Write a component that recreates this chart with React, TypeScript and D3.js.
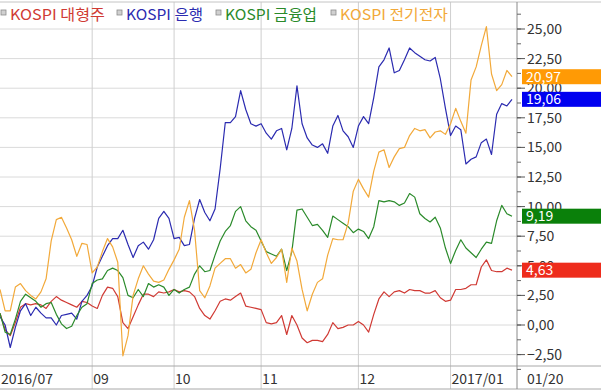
import React from "react";
import * as d3 from "d3";

const W = 601;
const H = 391;

// KOSPI sector indices, % change, one point per step
const largeCap = [
  1.0, -0.4, -0.9, 0.2, 1.5, 1.8, 1.7, 1.8, 1.7, 1.4, 2.0, 2.4, 2.1, 1.9, 1.7, 1.5, 2.0, 1.9, 1.6, 1.4,
  2.5, 3.2, 3.1, 2.4, 0.2, -0.3, 0.7, 1.7, 2.6, 2.6, 2.4, 2.8, 2.7, 2.8, 3.0, 2.8, 2.9, 2.8, 2.4, 1.4,
  0.8, 0.5, 1.2, 2.0, 2.2, 2.1, 2.4, 2.7, 1.6, 1.5, 1.4, 1.3, 0.2, 0.1, 0.2, 0.8, -0.8, 0.8, 0.0, -1.1,
  -1.5, -1.3, -1.3, -1.4, -0.8, 0.2, -0.3, -0.2, 0.0, 0.0, 0.3, 0.0, -0.6, 0.9, 2.2, 2.8, 2.4, 2.8, 2.9, 2.7,
  3.0, 2.9, 2.9, 2.7, 2.7, 2.9, 2.3, 2.0, 2.1, 3.0, 3.0, 3.1, 3.4, 3.4, 4.9, 5.5, 4.6, 4.5, 4.5, 4.8,
  4.63,
];
const bank = [
  0.7, 0.0, -1.9, -0.2, 1.2, 1.8, 0.8, 1.5, 1.0, 0.6, 0.6, 0.0, 0.8, 0.9, 1.0, 0.5, 2.0, 2.5, 3.3, 4.9,
  5.8, 6.7, 7.3, 7.3, 8.0, 6.8, 5.7, 6.7, 7.0, 6.4, 7.2, 9.0, 9.6, 9.0, 7.3, 7.4, 6.7, 6.8, 9.0, 10.6,
  9.5, 8.8, 9.8, 13.2, 17.1, 17.1, 17.6, 19.8, 18.2, 17.0, 16.8, 17.0, 16.2, 15.7, 16.4, 16.6, 14.8, 16.6, 20.2, 17.0,
  15.8, 15.2, 15.0, 15.3, 14.5, 16.8, 17.7, 16.4, 15.9, 15.0, 16.8, 17.6, 17.0, 19.2, 21.8, 22.4, 23.4, 21.3, 21.5, 22.4,
  23.4, 23.0, 22.7, 22.4, 22.3, 22.6, 20.8, 18.3, 16.0, 16.8, 16.5, 13.6, 14.0, 14.2, 15.4, 15.7, 14.4, 17.8, 18.7, 18.5,
  19.06,
];
const finance = [
  1.0, -0.6, -0.8, 0.5, 2.0, 2.6, 2.3, 2.0, 1.5, 1.8, 1.9, 0.9, 0.1, -0.3, -0.1, 0.8, 1.5, 1.8, 3.5, 3.8,
  3.9, 4.6, 4.8, 4.6, 4.0, 2.5, 2.3, 3.0, 2.4, 3.5, 3.2, 3.4, 3.2, 2.5, 3.0, 2.7, 3.0, 3.2, 4.3, 5.0,
  4.5, 4.6, 5.9, 7.1, 7.9, 8.4, 9.6, 10.0, 8.8, 8.3, 8.0, 7.1, 6.2, 6.0, 5.8, 6.4, 4.6, 6.2, 9.7, 9.8,
  9.1, 8.4, 8.5, 8.0, 7.4, 9.2, 8.9, 8.6, 8.3, 7.8, 8.1, 7.9, 7.3, 8.3, 10.5, 10.4, 10.5, 10.4, 10.1, 10.3,
  11.1, 10.8, 9.4, 9.0, 8.7, 9.1, 8.2, 6.5, 5.2, 6.3, 7.2, 6.5, 6.1, 5.7, 6.4, 7.0, 6.9, 8.8, 10.1, 9.4,
  9.19,
];
const electronics = [
  3.0, 1.2, 1.2, 3.2, 3.5, 2.9, 2.5, 2.2, 2.8, 3.9, 7.1, 8.9, 9.1, 8.2, 7.2, 5.8, 6.9, 6.8, 4.4, 4.9,
  6.2, 7.3, 6.6, 5.3, -2.6, -0.9, 2.5, 3.9, 5.0, 4.3, 3.7, 3.6, 3.8, 4.7, 5.5, 6.4, 9.1, 10.5, 8.0, 2.9,
  2.3, 3.3, 4.8, 5.2, 5.6, 5.6, 4.8, 5.1, 4.4, 4.7, 6.1, 7.2, 6.1, 5.2, 5.7, 6.4, 3.6, 6.5, 5.4, 3.0,
  1.2, 2.6, 3.6, 3.9, 5.9, 7.3, 7.2, 7.2, 8.6, 11.3, 12.3, 11.5, 10.8, 13.0, 14.6, 14.8, 13.3, 14.2, 14.9, 15.0,
  16.0, 16.6, 16.4, 16.5, 15.8, 16.3, 16.4, 16.1, 17.0, 18.3, 17.2, 16.2, 20.7, 21.8, 23.6, 25.2, 21.2, 19.8, 20.3, 21.5,
  20.97,
];

const seriesNames = ["KOSPI 대형주", "KOSPI 은행", "KOSPI 금융업", "KOSPI 전기전자"];
const lineColors = ["#d03a34", "#2b2bb0", "#2a8a2a", "#f2a93a"];
const boxColors = ["#ee2c1c", "#0000f0", "#0a800a", "#ff9a05"];
const allSeries = [largeCap, bank, finance, electronics];

const monthTicks = [
  { i: 0, label: "2016/07" },
  { i: 18, label: "09" },
  { i: 34, label: "10" },
  { i: 51, label: "11" },
  { i: 70, label: "12" },
  { i: 88, label: "2017/01" },
];
const lastDate = "01/20";
const yTicks = [-2.5, 0, 2.5, 5, 7.5, 10, 12.5, 15, 17.5, 20, 22.5, 25];

// legend placement (x start, text width)
const legendX = [10, 126, 225, 340];
const legendW = [95, 77, 92, 108];

const font = "'Noto Sans CJK KR', 'DejaVu Sans', sans-serif";

const App = () => {
  const axisX = 517;
  const plotTop = 2;
  const plotBottom = 366;

  const x = d3.scaleLinear().domain([0, 100]).range([0, 512]);
  const y = d3.scaleLinear().domain([-2.5, 25]).range([354.6, 29]);
  const fmt = (v: number) => d3.format(".2f")(v).replace(".", ",");

  const line = d3
    .line<number>()
    .x((d, i) => x(i))
    .y(d => y(d));

  const minorTicks = d3.range(-3.75, 27.6, 1.25);

  return (
    <svg
      width={W}
      height={H}
      style={{ position: "absolute", left: 0, top: 0, background: "#fff" }}
      fontFamily={font}
    >
      <defs>
        <clipPath id="plot">
          <rect x={0} y={plotTop} width={axisX} height={plotBottom - plotTop} />
        </clipPath>
      </defs>

      {/* horizontal grid */}
      {yTicks.map(t => (
        <line key={t} x1={0} x2={axisX} y1={y(t)} y2={y(t)} stroke="#dadada" />
      ))}
      {/* month grid */}
      {monthTicks.slice(1).map(m => (
        <line key={m.label} x1={x(m.i)} x2={x(m.i)} y1={plotTop} y2={H - 2} stroke="#cfcfcf" />
      ))}

      {/* borders */}
      <line x1={0} x2={W} y1={plotTop} y2={plotTop} stroke="#c4c4c4" />
      <line x1={0} x2={W} y1={plotBottom} y2={plotBottom} stroke="#a8a8a8" />
      <line x1={0} x2={W} y1={H - 2} y2={H - 2} stroke="#a8a8a8" />
      <line x1={axisX} x2={axisX} y1={plotTop} y2={H - 2} stroke="#8a8a8a" />

      {/* lines */}
      <g clipPath="url(#plot)" fill="none" strokeWidth={1.2} strokeLinejoin="round">
        {allSeries.map((s, k) => (
          <path key={k} d={line(s) || ""} stroke={lineColors[k]} />
        ))}
      </g>

      {/* right axis */}
      {minorTicks.map(t => (
        <line key={"m" + t} x1={axisX} x2={axisX + 4} y1={y(t)} y2={y(t)} stroke="#666" />
      ))}
      {yTicks.map(t => (
        <g key={"t" + t}>
          <line x1={axisX} x2={axisX + 8} y1={y(t)} y2={y(t)} stroke="#555" />
          <text x={527} y={y(t) + 5} fontSize={14} fill="#333">
            {fmt(t)}
          </text>
        </g>
      ))}

      {/* last value boxes */}
      {allSeries.map((s, k) => {
        const v = s[s.length - 1];
        return (
          <g key={"b" + k}>
            <rect x={522} y={y(v) - 7.5} width={W - 522} height={15} fill={boxColors[k]} />
            <text x={526} y={y(v) + 5} fontSize={14} fill="#fff">
              {fmt(v)}
            </text>
          </g>
        );
      })}

      {/* x labels */}
      {monthTicks.map(m => (
        <text key={"x" + m.label} x={x(m.i) + 1} y={384} fontSize={14} fill="#333">
          {m.label}
        </text>
      ))}
      <text x={527} y={384} fontSize={14} fill="#333">
        {lastDate}
      </text>

      {/* legend */}
      {seriesNames.map((n, k) => (
        <g key={n}>
          <rect x={legendX[k] - 9} y={10} width={5} height={5} fill="#d0d0d0" stroke="#8c8c8c" strokeWidth={0.8} />
          <text
            x={legendX[k]}
            y={20}
            fontSize={15}
            fill={lineColors[k]}
            textLength={legendW[k]}
            lengthAdjust="spacingAndGlyphs"
          >
            {n}
          </text>
        </g>
      ))}
    </svg>
  );
};

export default App;
